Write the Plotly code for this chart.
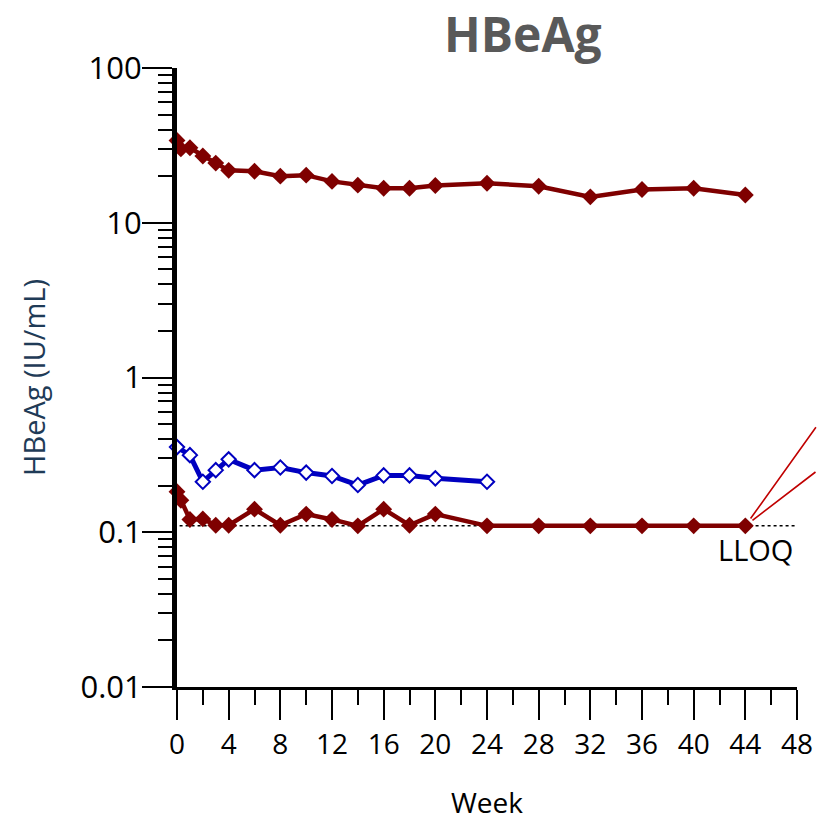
import numpy as np
import plotly.graph_objects as go

# HBeAg (IU/mL) by study week
week_high = [0, 0.3, 1, 2, 3, 4, 6, 8, 10, 12, 14, 16, 18, 20, 24, 28, 32, 36, 40, 44]
hbeag_high = [34.0, 30.0, 30.5, 27.0, 24.3, 21.8, 21.5, 20.0, 20.3, 18.5, 17.5, 16.7, 16.7, 17.4,
              18.0, 17.2, 14.7, 16.4, 16.7, 15.1]

week_mid = [0, 1, 2, 3, 4, 6, 8, 10, 12, 14, 16, 18, 20, 24]
hbeag_mid = [0.355, 0.315, 0.212, 0.252, 0.296, 0.252, 0.262, 0.243, 0.231, 0.202, 0.233, 0.233,
             0.223, 0.212]

week_low = [0, 0.3, 1, 2, 3, 4, 6, 8, 10, 12, 14, 16, 18, 20, 24, 28, 32, 36, 40, 44]
hbeag_low = [0.183, 0.161, 0.121, 0.122, 0.111, 0.111, 0.141, 0.111, 0.131, 0.121, 0.110, 0.141,
             0.111, 0.131, 0.110, 0.110, 0.110, 0.110, 0.110, 0.110]

lloq = 0.11
lloq_weeks = [0.2, 48]

y_tickvals = [0.01, 0.1, 1, 10, 100]
y_ticktext = ["0.01", "0.1", "1", "10", "100"]

MAROON = "#7F0000"
BLUE = "#0000C0"
FONT = "Open Sans"

fig = go.Figure()

fig.add_trace(go.Scatter(
    x=lloq_weeks, y=[lloq, lloq], mode="lines",
    line=dict(color="black", width=1.5, dash="dot"),
    hoverinfo="skip",
))
fig.add_trace(go.Scatter(
    x=week_high, y=hbeag_high, mode="lines+markers",
    line=dict(color=MAROON, width=4.5),
    marker=dict(symbol="diamond", size=13, color=MAROON),
    cliponaxis=False,
))
fig.add_trace(go.Scatter(
    x=week_mid, y=hbeag_mid, mode="lines+markers",
    line=dict(color=BLUE, width=5),
    marker=dict(symbol="diamond", size=11, color="white", line=dict(color=BLUE, width=2)),
    cliponaxis=False,
))
fig.add_trace(go.Scatter(
    x=week_low, y=hbeag_low, mode="lines+markers",
    line=dict(color=MAROON, width=4.5),
    marker=dict(symbol="diamond", size=13, color=MAROON),
    cliponaxis=False,
))

# LLOQ label and the two thin red pointer lines from the last point
last_x, last_y = week_low[-1], np.log10(hbeag_low[-1])
fig.add_annotation(x=44.8, y=np.log10(lloq), text="LLOQ", showarrow=False,
                   yshift=-24, font=dict(family=FONT, size=29, color="black"))
for ax, ay in [(80, -100), (80, -55)]:
    fig.add_annotation(x=last_x, y=last_y, text="", showarrow=True, arrowhead=0,
                       arrowwidth=1.6, arrowcolor="#C00000", ax=ax, ay=ay, standoff=9)

fig.update_layout(
    width=817, height=821,
    margin=dict(l=177, r=20, t=68, b=134),
    paper_bgcolor="white", plot_bgcolor="white",
    showlegend=False,
    title=dict(text="<b>HBeAg</b>", x=0.64, xanchor="center", y=0.957, yanchor="middle",
               font=dict(family=FONT, size=48, color="#595959")),
    font=dict(family=FONT, color="black"),
)
fig.update_xaxes(
    range=[0, 48], dtick=4, tick0=0, automargin=False,
    showgrid=False, zeroline=False,
    showline=True, linecolor="black", linewidth=3,
    ticks="outside", ticklen=30, tickwidth=2, tickcolor="black",
    minor=dict(dtick=2, ticks="outside", ticklen=15, tickwidth=2, tickcolor="black"),
    tickfont=dict(family=FONT, size=28, color="black"),
    title=dict(text="Week", font=dict(family=FONT, size=28, color="black"), standoff=39),
)
fig.update_yaxes(
    type="log", range=[-2, 2], automargin=False,
    tickvals=y_tickvals, ticktext=y_ticktext,
    showgrid=False, zeroline=False,
    showline=True, linecolor="black", linewidth=5,
    ticks="outside", ticklen=30, tickwidth=2, tickcolor="black",
    minor=dict(dtick="D1", ticks="outside", ticklen=14, tickwidth=2, tickcolor="black"),
    tickfont=dict(family=FONT, size=31, color="black"),
    ticklabelstandoff=-6,
    title=dict(text="HBeAg (IU/mL)", font=dict(family=FONT, size=29, color="#1F3B57"), standoff=28),
)

fig.write_html("out.html", config={"displayModeBar": False},
               post_script="document.body.style.margin='0px';")
